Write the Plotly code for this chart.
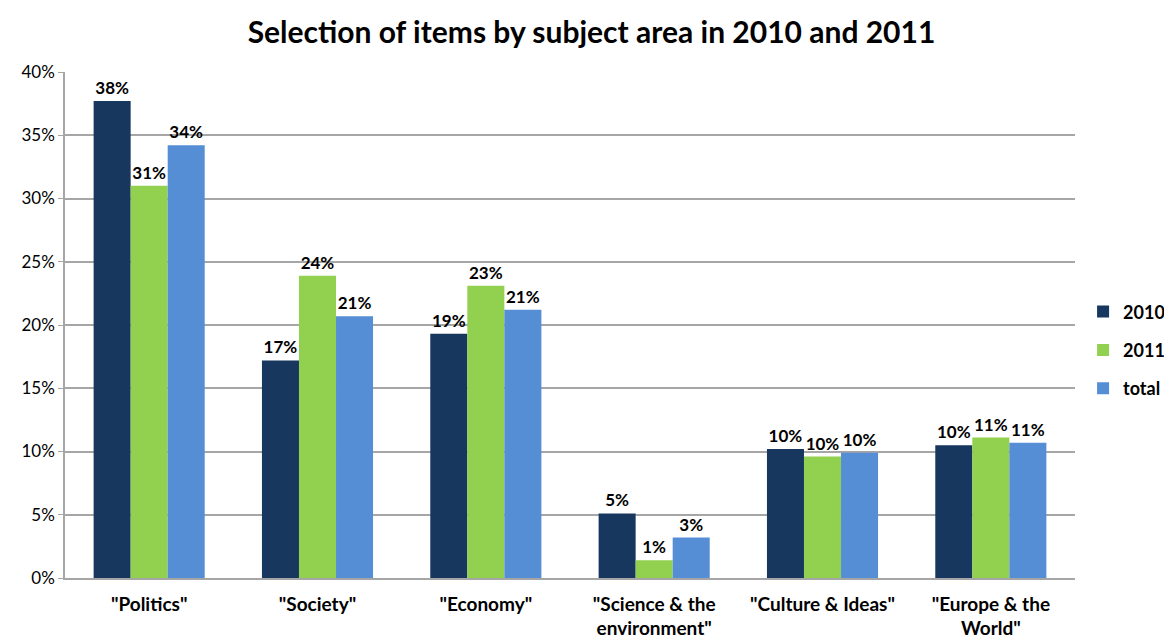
import plotly.graph_objects as go

categories = ['"Politics"', '"Society"', '"Economy"', '"Science & the<br>environment"',
              '"Culture & Ideas"', '"Europe & the<br>World"']
series_names = ["2010", "2011", "total"]
values_2010 = [37.7, 17.2, 19.3, 5.1, 10.2, 10.5]
values_2011 = [31.0, 23.9, 23.1, 1.4, 9.6, 11.1]
values_total = [34.2, 20.7, 21.2, 3.2, 9.9, 10.7]
y_ticks = [0, 5, 10, 15, 20, 25, 30, 35, 40]

colors = ["#17375e", "#92d050", "#558ed5"]
FONT = "Lato"

fig = go.Figure()
for i, (name, vals) in enumerate(zip(series_names, [values_2010, values_2011, values_total])):
    fig.add_trace(go.Bar(
        x=categories, y=vals, name=f"<b>{name}</b>",
        marker=dict(color=colors[i], line=dict(width=0)),
        text=[f"<b>{round(v)}%</b>" for v in vals],
        textposition="outside",
        textfont=dict(family=FONT, size=17, color="#000"),
        cliponaxis=False,
        legendgroup=name,
    ))

fig.update_layout(
    width=1160, height=630,
    barmode="group", bargap=0.34, bargroupgap=0,
    paper_bgcolor="white", plot_bgcolor="white",
    margin=dict(l=57, r=93, t=64, b=60, autoexpand=False),
    title=dict(text="<b>Selection of items by subject area in 2010 and 2011</b>",
               x=0.503, xanchor="center", y=0.978, yanchor="top",
               font=dict(family=FONT, size=30, color="#000")),
    font=dict(family=FONT, color="#000"),
    legend=dict(x=1.008, xanchor="left", y=0.45, yanchor="middle",
                font=dict(family=FONT, size=18, color="#000"),
                tracegroupgap=12, itemwidth=30, traceorder="grouped"),
)
fig.update_yaxes(range=[0, 40], tickvals=y_ticks, ticktext=[f"{t}%" for t in y_ticks],
                 showgrid=True, gridcolor="#a6a6a6", gridwidth=1.5,
                 showline=True, linecolor="#a6a6a6", linewidth=1.5,
                 ticks="outside", ticklen=5, tickcolor="#a6a6a6",
                 tickfont=dict(family=FONT, size=17, color="#000"),
                 zeroline=False, automargin=False)
fig.update_xaxes(showline=True, linecolor="#a6a6a6", linewidth=1.5,
                 tickvals=categories, ticktext=[f"<b>{c}</b>" for c in categories],
                 tickfont=dict(family=FONT, size=19, color="#000"),
                 ticklabelstandoff=8,
                 ticks="", automargin=False)

fig.write_html("out.html")
